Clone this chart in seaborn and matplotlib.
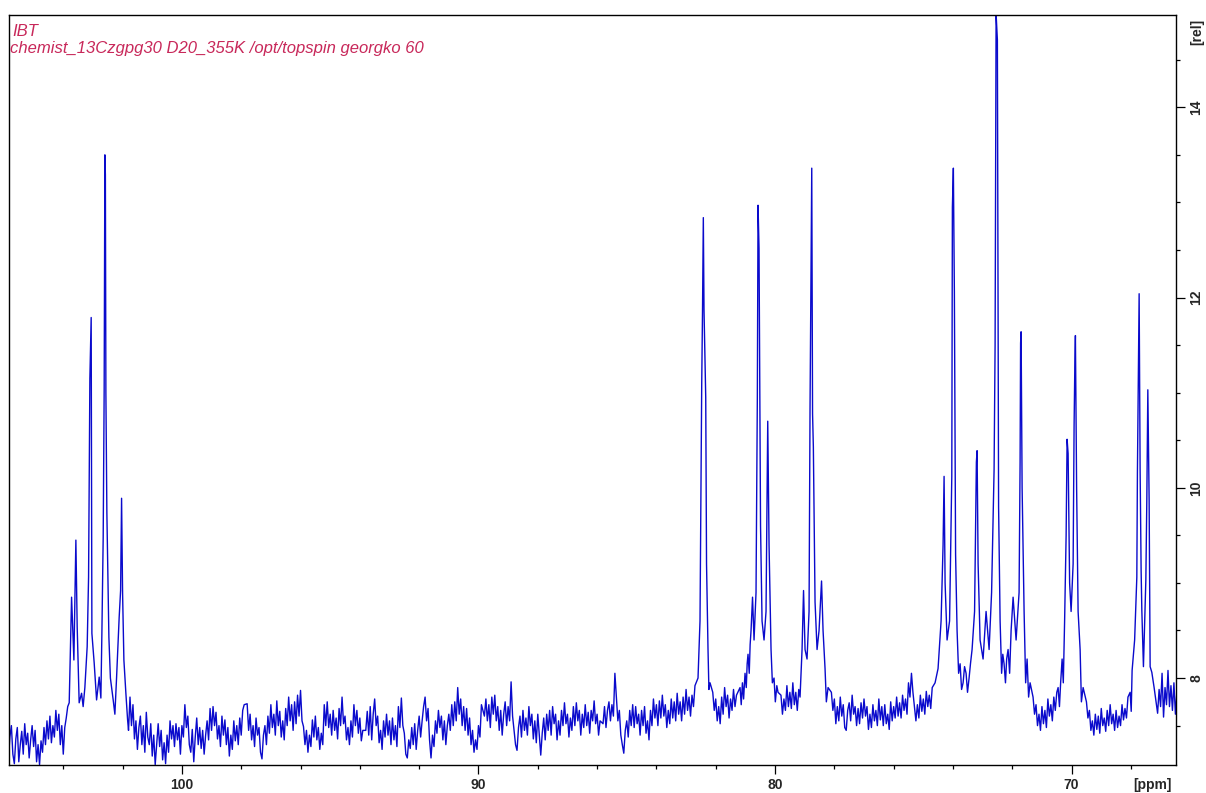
import numpy as np
import pandas as pd
import matplotlib
matplotlib.use("Agg")
import matplotlib.pyplot as plt
from matplotlib.ticker import FixedLocator, MultipleLocator
import seaborn as sns

# ---------------------------------------------------------------------------
# 13C spectrum (zgpg30, D2O, 355 K), region 105.8 - 66.5 ppm
# Baseline stretches: (first ppm, last ppm, intensities sampled evenly between)
# ---------------------------------------------------------------------------
base_106 = (106.0, 103.8, [
    7.40, 7.22, 7.45, 7.15, 7.38, 7.50, 7.20, 7.10, 7.36, 7.48, 7.12, 7.30,
    7.44, 7.20, 7.52, 7.30, 7.42, 7.16, 7.35, 7.50, 7.28, 7.45, 7.12, 7.30,
    7.09, 7.34, 7.22, 7.48, 7.30, 7.55, 7.36, 7.60, 7.32, 7.50, 7.38, 7.66,
    7.45, 7.62, 7.30, 7.50, 7.20, 7.48, 7.58, 7.70, 7.74])

base_101 = (101.8, 97.9, [
    7.45, 7.80, 7.50, 7.72, 7.36, 7.55, 7.25, 7.48, 7.60, 7.30, 7.50, 7.22,
    7.64, 7.38, 7.30, 7.52, 7.18, 7.40, 7.09, 7.30, 7.52, 7.28, 7.45, 7.14,
    7.32, 7.10, 7.40, 7.22, 7.55, 7.36, 7.50, 7.28, 7.52, 7.35, 7.48, 7.20,
    7.50, 7.38, 7.72, 7.48, 7.60, 7.30, 7.22, 7.46, 7.12, 7.38, 7.58, 7.30,
    7.48, 7.26, 7.45, 7.20, 7.40, 7.55, 7.35, 7.68, 7.45, 7.70, 7.50, 7.64,
    7.36, 7.50, 7.28, 7.60, 7.40, 7.56, 7.30, 7.48, 7.18, 7.40, 7.25, 7.55,
    7.34, 7.50, 7.30, 7.58, 7.40, 7.66, 7.72])

base_97 = (97.8, 93.9, [
    7.73, 7.45, 7.62, 7.35, 7.50, 7.28, 7.58, 7.40, 7.48, 7.22, 7.15, 7.40,
    7.50, 7.30, 7.60, 7.42, 7.72, 7.48, 7.62, 7.40, 7.76, 7.50, 7.65, 7.38,
    7.55, 7.35, 7.68, 7.50, 7.80, 7.55, 7.72, 7.45, 7.75, 7.52, 7.82, 7.60,
    7.87, 7.55, 7.49, 7.30, 7.45, 7.22, 7.40, 7.28, 7.56, 7.38, 7.60, 7.35,
    7.48, 7.25, 7.42, 7.30, 7.72, 7.50, 7.75, 7.48, 7.62, 7.40, 7.66, 7.45,
    7.58, 7.36, 7.68, 7.50, 7.80, 7.52, 7.60, 7.35, 7.48, 7.30, 7.55, 7.38,
    7.72, 7.50, 7.66, 7.42, 7.58, 7.34, 7.45])

base_93 = (93.8, 89.9, [
    7.45, 7.65, 7.40, 7.70, 7.35, 7.62, 7.78, 7.50, 7.60, 7.32, 7.45, 7.25,
    7.55, 7.38, 7.62, 7.40, 7.55, 7.30, 7.58, 7.35, 7.50, 7.28, 7.70, 7.48,
    7.79, 7.50, 7.42, 7.20, 7.16, 7.35, 7.26, 7.48, 7.30, 7.52, 7.25, 7.45,
    7.60, 7.38, 7.55, 7.70, 7.80, 7.55, 7.68, 7.35, 7.16, 7.40, 7.28, 7.55,
    7.42, 7.66, 7.48, 7.60, 7.35, 7.55, 7.30, 7.50, 7.62, 7.45, 7.72, 7.50,
    7.75, 7.55, 7.90, 7.62, 7.78, 7.50, 7.70, 7.45, 7.68, 7.40, 7.58, 7.30,
    7.45, 7.22, 7.35, 7.25, 7.50, 7.38, 7.72])

base_89 = (89.8, 85.9, [
    7.60, 7.78, 7.55, 7.72, 7.48, 7.80, 7.62, 7.82, 7.55, 7.70, 7.45, 7.66,
    7.40, 7.62, 7.75, 7.50, 7.70, 7.55, 7.96, 7.60, 7.45, 7.30, 7.24, 7.48,
    7.60, 7.38, 7.66, 7.45, 7.58, 7.40, 7.70, 7.50, 7.62, 7.36, 7.55, 7.32,
    7.62, 7.40, 7.19, 7.42, 7.58, 7.35, 7.62, 7.45, 7.66, 7.40, 7.70, 7.52,
    7.62, 7.35, 7.55, 7.40, 7.66, 7.50, 7.74, 7.52, 7.62, 7.38, 7.58, 7.45,
    7.70, 7.50, 7.74, 7.55, 7.66, 7.40, 7.62, 7.48, 7.72, 7.50, 7.64, 7.42,
    7.66, 7.55, 7.76, 7.52, 7.62, 7.40, 7.55])

base_85 = (85.8, 82.7, [
    7.52, 7.70, 7.48, 7.66, 7.75, 7.55, 7.72, 7.60, 8.05, 7.80, 7.55, 7.66,
    7.40, 7.30, 7.21, 7.45, 7.55, 7.38, 7.66, 7.50, 7.72, 7.48, 7.70, 7.52,
    7.62, 7.40, 7.66, 7.50, 7.70, 7.42, 7.55, 7.35, 7.66, 7.50, 7.78, 7.58,
    7.72, 7.50, 7.76, 7.58, 7.82, 7.60, 7.72, 7.48, 7.66, 7.52, 7.78, 7.58,
    7.75, 7.55, 7.84, 7.62, 7.75, 7.55, 7.80, 7.62, 7.88, 7.66, 7.80, 7.60,
    7.82, 7.70, 7.92])

base_82 = (82.1, 81.3, [
    7.85, 7.66, 7.78, 7.55, 7.70, 7.52, 7.80, 7.62, 7.90, 7.70, 7.82, 7.58,
    7.78, 7.66, 7.88, 7.70, 7.82])

base_79 = (79.8, 79.2, [
    7.82, 7.62, 7.78, 7.66, 7.92, 7.70, 7.85, 7.68, 7.95, 7.72, 7.85, 7.66,
    7.88])

base_78 = (78.1, 74.7, [
    7.85, 7.66, 7.78, 7.52, 7.70, 7.55, 7.80, 7.60, 7.72, 7.48, 7.45, 7.66,
    7.74, 7.55, 7.82, 7.62, 7.70, 7.50, 7.68, 7.52, 7.74, 7.58, 7.78, 7.60,
    7.70, 7.46, 7.62, 7.48, 7.72, 7.55, 7.66, 7.50, 7.78, 7.56, 7.70, 7.50,
    7.72, 7.52, 7.62, 7.46, 7.75, 7.55, 7.70, 7.58, 7.80, 7.60, 7.74, 7.58,
    7.82, 7.66, 7.78, 7.62, 7.95, 7.80, 8.05, 7.85, 7.70, 7.55, 7.72, 7.58,
    7.82, 7.65, 7.78, 7.62, 7.86, 7.70, 7.82, 7.68, 7.90])

base_71 = (71.3, 70.5, [
    7.80, 7.62, 7.72, 7.50, 7.62, 7.45, 7.70, 7.52, 7.66, 7.48, 7.78, 7.60,
    7.72, 7.55, 7.80, 7.66, 7.85])

base_69 = (69.5, 68.1, [
    7.75, 7.58, 7.66, 7.45, 7.55, 7.40, 7.62, 7.46, 7.60, 7.42, 7.68, 7.50,
    7.58, 7.44, 7.66, 7.50, 7.72, 7.52, 7.62, 7.45, 7.66, 7.48, 7.60, 7.50,
    7.72, 7.56, 7.68, 7.58, 7.80])

base_67 = (67.1, 66.3, [
    7.63, 7.88, 7.70, 8.05, 7.59, 7.90, 7.72, 8.08, 7.70, 7.92, 7.66, 7.95,
    7.62, 7.85, 7.70, 7.82, 7.70])

# ---------------------------------------------------------------------------
# Signal groups: sampled points (ppm, rel) through each multiplet
# ---------------------------------------------------------------------------
group_103_ppm = [103.754, 103.720, 103.642, 103.575, 103.531, 103.464, 103.383,
                 103.330, 103.272, 103.194, 103.147, 103.103, 103.079, 103.059,
                 103.035, 102.958, 102.877, 102.789, 102.732, 102.698, 102.654,
                 102.621, 102.597, 102.580, 102.563, 102.530, 102.496, 102.462,
                 102.411, 102.317, 102.260, 102.202, 102.115, 102.067, 102.034,
                 102.000, 101.956, 101.889, 101.831]
group_103_rel = [8.35, 8.85, 8.19, 9.45, 8.54, 7.74, 7.84,
                 7.70, 7.90, 8.33, 9.06, 11.15, 11.48, 11.79,
                 8.47, 8.16, 7.77, 8.01, 7.79, 8.47, 9.48,
                 11.03, 13.50, 13.29, 11.00, 9.74, 9.10, 8.43,
                 8.00, 7.77, 7.62, 8.01, 8.64, 8.92, 9.89,
                 8.89, 8.19, 7.84, 7.56]

group_82_ppm = [82.597, 82.530, 82.472, 82.445, 82.418, 82.395, 82.337, 82.310,
                82.260, 82.230, 82.192]
group_82_rel = [8.00, 8.60, 11.10, 11.87, 12.84, 11.87, 10.95, 9.20,
                8.30, 7.88, 7.95]

group_80_ppm = [81.180, 81.140, 81.100, 81.060, 81.012, 80.970, 80.940, 80.911,
                80.870, 80.840, 80.809, 80.759, 80.708, 80.641, 80.597, 80.573,
                80.540, 80.489, 80.438, 80.371, 80.304, 80.246, 80.202, 80.135,
                80.090, 80.034, 79.990, 79.940, 79.899]
group_80_rel = [7.90, 7.72, 7.95, 7.78, 8.05, 7.90, 8.15, 8.25,
                8.05, 8.35, 8.50, 8.85, 8.40, 8.90, 10.94, 12.97,
                12.52, 9.60, 8.60, 8.40, 8.70, 10.70, 9.40, 8.30,
                7.95, 8.00, 7.75, 7.92, 7.85]

group_78_ppm = [79.157, 79.089, 79.039, 78.988, 78.921, 78.853, 78.820, 78.762,
                78.735, 78.708, 78.651, 78.583, 78.516, 78.432, 78.381, 78.314,
                78.270, 78.212]
group_78_rel = [7.80, 8.30, 8.92, 8.30, 8.20, 8.70, 10.84, 13.36,
                10.78, 10.43, 8.80, 8.30, 8.50, 9.02, 8.50, 8.10,
                7.75, 7.90]

group_73_ppm = [74.604, 74.503, 74.401, 74.334, 74.300, 74.266, 74.199, 74.115,
                74.040, 74.020, 73.987, 73.953, 73.912, 73.862, 73.810, 73.760,
                73.710, 73.659, 73.610, 73.558, 73.510, 73.457, 73.410, 73.356,
                73.272, 73.211, 73.187, 73.153, 73.086, 72.985, 72.884, 72.782,
                72.698, 72.614, 72.580, 72.546, 72.503, 72.462, 72.411, 72.360,
                72.320, 72.277, 72.230, 72.190, 72.142, 72.090, 72.040, 71.973,
                71.872, 71.771, 71.737, 71.720, 71.703, 71.669, 71.602, 71.550,
                71.501, 71.450, 71.400]
group_73_rel = [7.95, 8.10, 8.60, 9.40, 10.12, 9.00, 8.40, 8.60,
                10.12, 12.95, 13.36, 12.06, 9.30, 8.50, 8.05, 8.15,
                7.88, 7.95, 8.12, 8.05, 7.85, 8.00, 8.15, 8.30,
                8.70, 10.27, 10.39, 9.20, 8.40, 8.20, 8.70, 8.30,
                8.90, 10.19, 11.50, 14.98, 14.71, 9.80, 8.60, 8.05,
                8.25, 8.15, 7.95, 8.20, 8.30, 8.05, 8.50, 8.85,
                8.40, 8.90, 10.27, 11.52, 11.64, 10.00, 8.70, 7.95,
                8.20, 7.80, 7.95]

group_70_ppm = [70.455, 70.410, 70.370, 70.320, 70.280, 70.236, 70.185, 70.152,
                70.118, 70.067, 70.017, 69.949, 69.916, 69.892, 69.872, 69.831,
                69.781, 69.713, 69.670, 69.612]
group_70_rel = [7.90, 7.70, 7.95, 8.20, 7.95, 8.60, 9.50, 10.51,
                10.36, 9.00, 8.70, 9.20, 10.66, 11.26, 11.60, 10.00,
                8.70, 8.30, 7.75, 7.90]

group_67_ppm = [68.027, 67.990, 67.960, 67.875, 67.801, 67.781, 67.723, 67.690,
                67.656, 67.632, 67.578, 67.497, 67.464, 67.430, 67.386, 67.352,
                67.295, 67.218]
group_67_rel = [7.85, 7.65, 8.08, 8.40, 9.06, 10.16, 12.04, 10.19,
                9.13, 8.71, 8.12, 9.03, 9.87, 11.03, 9.87, 8.12,
                8.06, 7.90]

# axis scale labels
x_major = [100, 90, 80, 70]
y_major = [8, 10, 12, 14]
header_lines = ["IBT", "chemist_13Czgpg30 D20_355K /opt/topspin georgko 60"]

# ---------------------------------------------------------------------------
# assemble the trace
# ---------------------------------------------------------------------------
pieces = []
for first, last, vals in [base_106, base_101, base_97, base_93, base_89,
                          base_85, base_82, base_79, base_78, base_71,
                          base_69, base_67]:
    pieces.append(pd.DataFrame({"ppm": np.linspace(first, last, len(vals)),
                                "rel": vals}))
for p, r in [(group_103_ppm, group_103_rel), (group_82_ppm, group_82_rel),
             (group_80_ppm, group_80_rel), (group_78_ppm, group_78_rel),
             (group_73_ppm, group_73_rel), (group_70_ppm, group_70_rel),
             (group_67_ppm, group_67_rel)]:
    pieces.append(pd.DataFrame({"ppm": p, "rel": r}))

spectrum = (pd.concat(pieces, ignore_index=True)
              .sort_values("ppm", ascending=False)
              .reset_index(drop=True))

# ---------------------------------------------------------------------------
# figure
# ---------------------------------------------------------------------------
sns.set_style("white")
plt.rcParams["font.family"] = ["Liberation Sans", "DejaVu Sans"]

W, H = 1206, 793
fig = plt.figure(figsize=(W / 100, H / 100), dpi=100)
ax = fig.add_axes([9 / W, 1 - 765 / H, (1176 - 9) / W, (765 - 15) / H])

sns.lineplot(data=spectrum, x="ppm", y="rel", sort=False, estimator=None,
             color="#0a0acc", linewidth=1.0, ax=ax)

ax.set_xlim(105.83, 66.48)
ax.set_ylim(7.086, 14.97)
ax.set_xlabel("")
ax.set_ylabel("")

ax.yaxis.tick_right()
ax.xaxis.set_major_locator(FixedLocator(x_major))
ax.xaxis.set_minor_locator(MultipleLocator(2))
ax.yaxis.set_major_locator(FixedLocator(y_major))
ax.yaxis.set_minor_locator(MultipleLocator(0.5))
ax.set_xticklabels([str(v) for v in x_major])
ax.set_yticklabels([str(v) for v in y_major])

ax.tick_params(axis="both", which="major", direction="out", length=6.5,
               width=0.9, color="black", labelsize=10, pad=3)
ax.tick_params(axis="both", which="minor", direction="out", length=3,
               width=0.9, color="black")
ax.tick_params(axis="y", which="both", left=False, right=True,
               labelleft=False, labelright=True)
ax.tick_params(axis="x", which="both", bottom=True, top=False)
for lab in ax.get_xticklabels():
    lab.set_fontweight("bold")
for lab in ax.get_yticklabels():
    lab.set_fontweight("bold")
    lab.set_rotation(90)
    lab.set_va("center")

for s in ax.spines.values():
    s.set_visible(True)
    s.set_color("black")
    s.set_linewidth(1.0)

fig.text(1152 / W, 1 - 785 / H, "[ppm]", ha="center", va="center",
         fontsize=10, fontweight="bold")
fig.text(1197 / W, 1 - 32 / H, "[rel]", ha="center", va="center",
         fontsize=10, fontweight="bold", rotation=90)

fig.text(12 / W, 1 - 31 / H, header_lines[0], ha="left", va="center",
         fontsize=12, style="italic", color="#c8285a")
fig.text(10 / W, 1 - 48 / H, header_lines[1], ha="left", va="center",
         fontsize=12, style="italic", color="#c8285a")

fig.savefig("out.png", dpi=100)
